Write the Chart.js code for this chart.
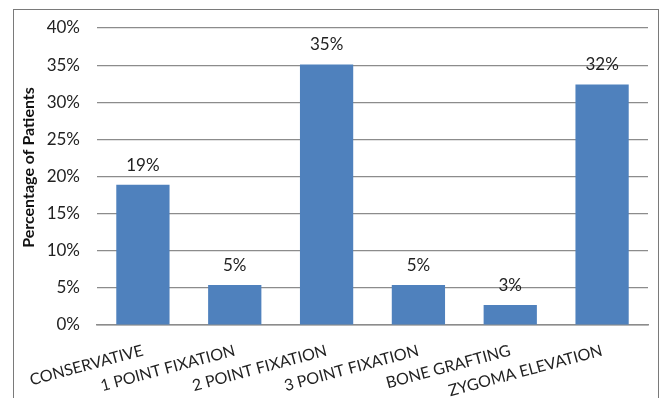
<!DOCTYPE html>
<html>
<head>
<meta charset="utf-8">
<script src="https://cdn.jsdelivr.net/npm/chart.js@4"></script>
<style>
  body { margin: 0; background: #fff; }
  .wrap { position: relative; width: 659px; height: 398px; overflow: hidden; }
  .frame { position: absolute; left: 13px; top: 9px; width: 644px; height: 400px;
           border: 1px solid #7a7a7a; pointer-events: none; }
</style>
</head>
<body>
<div class="wrap">
  <canvas id="chart" width="659" height="398"></canvas>
  <div class="frame"></div>
</div>
<script>
// treatment groups and their share of patients (%)
const categories = [
  "CONSERVATIVE",
  "1 POINT FIXATION",
  "2 POINT FIXATION",
  "3 POINT FIXATION",
  "BONE GRAFTING",
  "ZYGOMA ELEVATION",
];
const percentages = [18.9, 5.4, 35.1, 5.4, 2.7, 32.4];
const yTicks = [0, 5, 10, 15, 20, 25, 30, 35, 40];
const yTitle = "Percentage of Patients";

// draws the rounded percentage above each bar
const valueLabels = {
  id: "valueLabels",
  afterDatasetsDraw(chart) {
    const ctx = chart.ctx;
    const meta = chart.getDatasetMeta(0);
    ctx.save();
    ctx.font = "17px Lato";
    ctx.fillStyle = "#222";
    ctx.textAlign = "center";
    ctx.textBaseline = "bottom";
    meta.data.forEach((bar, i) => {
      ctx.fillText(Math.round(percentages[i]) + "%", bar.x, bar.y - 11);
    });
    ctx.restore();
  },
};

// vertical axis title, sitting a little above the plot's middle like the original
const axisTitle = {
  id: "axisTitle",
  afterDraw(chart) {
    const ctx = chart.ctx;
    const area = chart.chartArea;
    ctx.save();
    ctx.translate(29, (area.top + area.bottom) / 2 - 9);
    ctx.rotate(-Math.PI / 2);
    ctx.font = "bold 16px Lato";
    ctx.fillStyle = "#111";
    ctx.textAlign = "center";
    ctx.textBaseline = "middle";
    ctx.fillText(yTitle, 0, 0);
    ctx.restore();
  },
};

new Chart(document.getElementById("chart"), {
  type: "bar",
  data: {
    labels: categories,
    datasets: [
      {
        data: percentages,
        backgroundColor: "#4F81BD",
        barPercentage: 0.58,
        categoryPercentage: 1,
      },
    ],
  },
  options: {
    responsive: false,
    animation: false,
    layout: { padding: { left: 14, right: 11, top: 28, bottom: 0 } },
    plugins: {
      legend: { display: false },
      tooltip: { enabled: false },
    },
    scales: {
      x: {
        grid: { display: false },
        border: { display: true, color: "#8c8c8c", width: 1.5 },
        ticks: {
          autoSkip: false,
          maxRotation: 15,
          minRotation: 15,
          padding: 8,
          color: "#222",
          font: { family: "Lato", size: 16 },
        },
        afterFit: (scale) => { scale.height = 73; },
      },
      y: {
        min: 0,
        max: 40,
        afterBuildTicks: (scale) => {
          scale.ticks = yTicks.map((v) => ({ value: v }));
        },
        grid: { color: "#8c8c8c", lineWidth: 1.2, drawTicks: false },
        border: { display: false },
        ticks: {
          padding: 17,
          color: "#222",
          font: { family: "Lato", size: 17 },
          callback: (v) => v + "%",
        },
        afterFit: (scale) => { scale.width = 83; },
      },
    },
  },
  plugins: [valueLabels, axisTitle],
});
</script>
</body>
</html>
